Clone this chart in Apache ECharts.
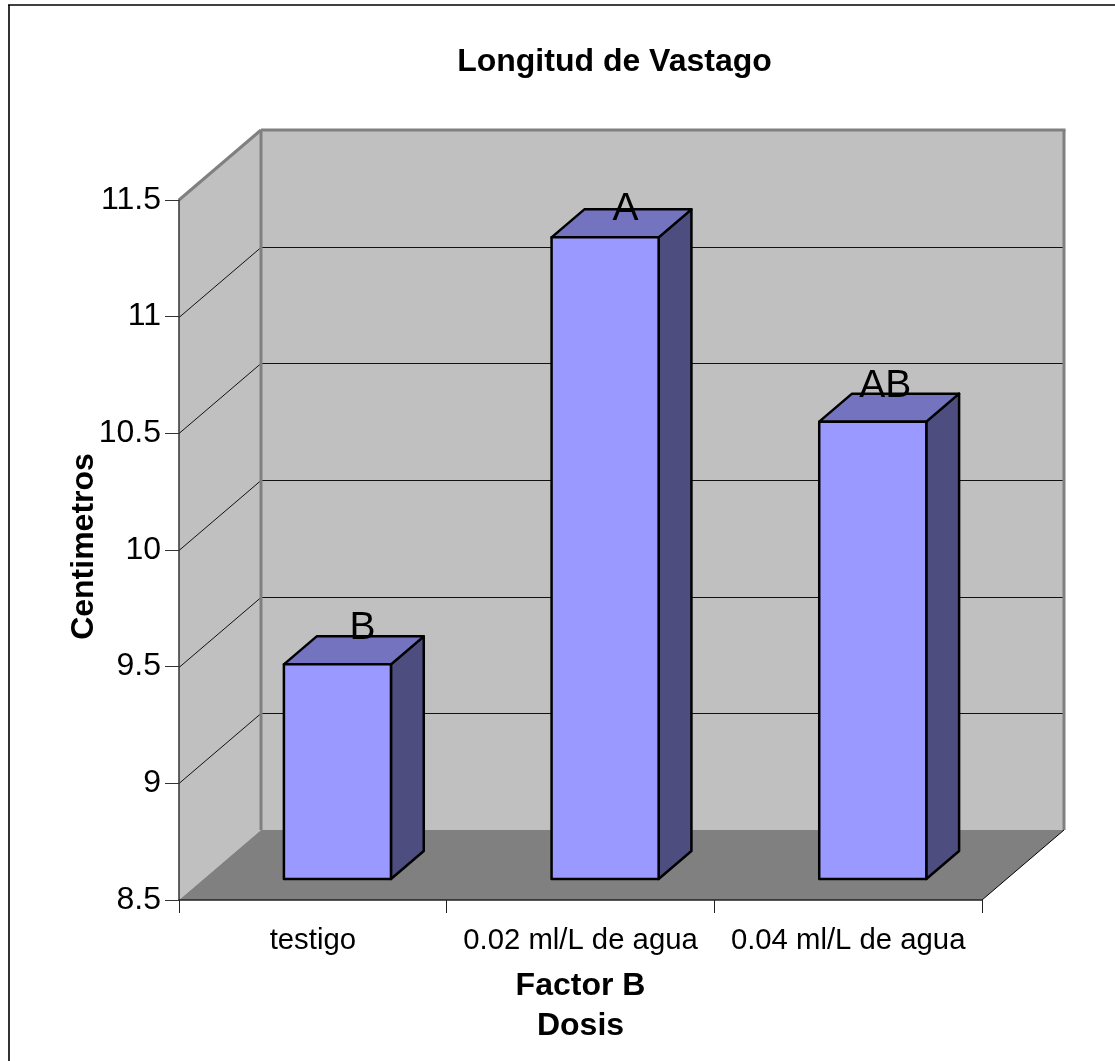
<!DOCTYPE html>
<html>
<head>
<meta charset="utf-8">
<style>html,body{margin:0;padding:0;background:#fff}#c{width:1115px;height:1061px}</style>
<script src="https://cdn.jsdelivr.net/npm/echarts@6/dist/echarts.min.js"></script>
</head>
<body>
<div id="c"></div>
<script>
const categories = ['testigo', '0.02 ml/L de agua', '0.04 ml/L de agua'];
const values = [9.42, 11.25, 10.46];
const letters = ['B', 'A', 'AB'];
const yTicks = [9, 9.5, 10, 10.5, 11];

const FONT = '"Liberation Sans", Arial, sans-serif';
const DX = 82, DY = 70;            // depth of the 3D box
const PLANE = 0.3, THICK = 0.4, WIDTH = 0.4;   // bar placement inside the depth and the band
const labelShift = [[25, -36], [20.5, -28], [12.5, -35]];

function poly(points, fill, stroke, lw) {
  return { type: 'polygon', shape: { points: points },
    style: { fill: fill, stroke: stroke || null, lineWidth: lw || 0, lineJoin: 'round' } };
}
function seg(x1, y1, x2, y2, color, lw) {
  return { type: 'line', shape: { x1, y1, x2, y2 }, style: { stroke: color, lineWidth: lw } };
}

function renderWalls(params, api) {
  const r = params.coordSys;
  const L = r.x, R = r.x + r.width, T = r.y, B = r.y + r.height;
  const kids = [
    poly([[L, T], [L + DX, T - DY], [L + DX, B - DY], [L, B]], '#C0C0C0'),
    poly([[L + DX, T - DY], [R + DX, T - DY], [R + DX, B - DY], [L + DX, B - DY]], '#C0C0C0'),
    poly([[L, B], [L + DX, B - DY], [R + DX, B - DY], [R, B]], '#808080')
  ];
  yTicks.forEach(function (v) {
    const y = Math.round(api.coord([0, v])[1]) + 0.5;
    kids.push(seg(L, y, L + DX, y - DY, '#111', 1));
    kids.push(seg(L + DX, y - DY, R + DX, y - DY, '#111', 1));
  });
  kids.push(seg(L, T, L + DX, T - DY, '#808080', 3));
  kids.push(seg(L + DX, T - DY, R + DX + 1.5, T - DY, '#808080', 3));
  kids.push(seg(L + DX, T - DY, L + DX, B - DY, '#808080', 3));
  kids.push(seg(R + DX, T - DY, R + DX, B - DY, '#808080', 3));
  kids.push(seg(R, B, R + DX, B - DY, '#000', 1));
  return { type: 'group', children: kids };
}

function renderBar(params, api) {
  const i = api.value(0), v = api.value(1);
  const band = api.size([1, 0])[0];
  const top = api.coord([i, v]);
  const base = api.coord([i, 8.5]);
  const sx = DX * PLANE, sy = DY * PLANE;
  const dx = DX * THICK, dy = DY * THICK;
  const w = band * WIDTH;
  const x0 = top[0] + sx - w / 2, x1 = x0 + w;
  const yT = top[1] - sy, yB = base[1] - sy;
  return { type: 'group', children: [
    poly([[x1, yT], [x1 + dx, yT - dy], [x1 + dx, yB - dy], [x1, yB]], '#4D4D80', '#000', 2.5),
    poly([[x0, yT], [x0 + dx, yT - dy], [x1 + dx, yT - dy], [x1, yT]], '#7373BF', '#000', 2.5),
    poly([[x0, yT], [x1, yT], [x1, yB], [x0, yB]], '#9999FF', '#000', 2.5),
    { type: 'text', z2: 10, style: {
        x: top[0] + sx + labelShift[i][0], y: yT + labelShift[i][1],
        text: letters[i], fill: '#000', font: '39px ' + FONT,
        align: 'center', verticalAlign: 'middle' } }
  ] };
}

const chart = echarts.init(document.getElementById('c'), null, { renderer: 'canvas' });
chart.setOption({
  animation: false,
  backgroundColor: '#fff',
  title: { text: 'Longitud de Vastago', left: 609.5, top: 41, textAlign: 'center',
    textStyle: { fontFamily: FONT, fontWeight: 'bold', fontSize: 32, color: '#000' } },
  grid: { left: 179, top: 200, width: 803, height: 700 },
  xAxis: {
    type: 'category', data: categories, z: 10,
    axisLine: { show: true, lineStyle: { color: '#222', width: 1.5 } },
    axisTick: { show: true, length: 13, alignWithLabel: false, lineStyle: { color: '#222', width: 1 } },
    axisLabel: { fontFamily: FONT, fontSize: 29.3, color: '#000', margin: 26, interval: 0 },
    splitLine: { show: false },
    name: 'Factor B\nDosis', nameLocation: 'middle', nameGap: 66,
    nameTextStyle: { fontFamily: FONT, fontWeight: 'bold', fontSize: 32, color: '#000', lineHeight: 40 }
  },
  yAxis: {
    type: 'value', min: 8.5, max: 11.5, interval: 0.5, z: 10,
    axisLine: { show: true, lineStyle: { color: '#333', width: 1.5 } },
    axisTick: { show: true, length: 14, lineStyle: { color: '#333', width: 1 } },
    axisLabel: { fontFamily: FONT, fontSize: 32, color: '#000', margin: 18 },
    splitLine: { show: false },
    name: 'Centimetros', nameLocation: 'middle', nameGap: 79, nameRotate: 90, nameMoveOverlap: false,
    nameTextStyle: { fontFamily: FONT, fontWeight: 'bold', fontSize: 32, color: '#000', padding: [0, 0, 0, 7] }
  },
  series: [
    { type: 'custom', z: 1, silent: true, renderItem: renderWalls, data: [[0]], clip: false },
    { type: 'custom', z: 3, renderItem: renderBar, clip: false,
      encode: { x: 0, y: 1 },
      data: values.map(function (v, i) { return [i, v]; }) }
  ],
  graphic: [
    { type: 'line', shape: { x1: 9, y1: 5, x2: 9, y2: 1061 }, style: { stroke: '#333', lineWidth: 2 } },
    { type: 'line', shape: { x1: 8, y1: 5, x2: 1115, y2: 5 }, style: { stroke: '#000', lineWidth: 1.5 } }
  ]
});
</script>
</body>
</html>
